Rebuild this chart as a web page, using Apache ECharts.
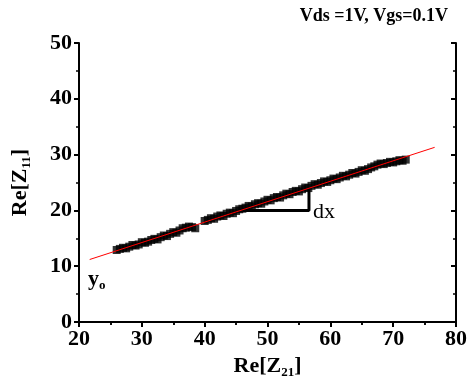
<!DOCTYPE html>
<html><head><meta charset="utf-8">
<script src="https://cdn.jsdelivr.net/npm/echarts@6/dist/echarts.min.js"></script>
<style>html,body{margin:0;padding:0;background:#fff}#c{width:470px;height:387px}</style>
</head><body><div id="c"></div>
<script>
// measured points: left cluster
const xLeft = [26,26.5,27,27.5,28,28.5,29,29.5,30,30.5,31,31.5,32,32.5,33,33.5,34,34.5,35,35.5,36,36.5,37,37.5,38,38.5];
const yLeft = [12.9,13.1,13.3,13.2,13.5,13.8,13.7,13.9,14.3,14.2,14.4,14.7,14.9,14.8,15.2,15.5,15.4,15.8,16.1,16.0,16.4,16.8,16.9,17.1,17.0,16.8];
// right cluster
const xRight = [40,40.5,41,41.5,42,42.5,43,43.5,44,44.5,45,45.5,46,46.5,47,47.5,48,48.5,49,49.5,50,50.5,51,51.5,52,52.5,53,53.5,54,54.5,55,55.5,56,56.5,57,57.5,58,58.5,59,59.5,60,60.5,61,61.5,62,62.5,63,63.5,64,64.5,65,65.5,66,66.5,67,67.5,68,68.5,69,69.5,70,70.5,71,71.5,72];
const yRight = [18.1,18.3,18.6,18.5,18.9,19.1,19.0,19.4,19.6,19.5,19.9,20.2,20.3,20.5,20.8,20.7,21.1,21.3,21.2,21.6,21.9,21.8,22.2,22.4,22.3,22.7,23.0,22.9,23.3,23.5,23.4,23.8,24.1,24.0,24.4,24.7,24.6,24.9,25.2,25.1,25.4,25.7,25.6,25.9,26.2,26.1,26.4,26.7,26.6,26.9,27.2,27.1,27.4,27.7,27.9,28.2,28.4,28.3,28.5,28.7,28.6,28.8,29.0,28.9,29.1];
// linear fit line endpoints
const fitX = [21.7, 76.6];
const fitY = [11.2, 31.3];
// slope triangle
const triX = [45.7, 56.6, 56.6];
const triY = [20, 20, 24.0];
const xTicks = [20,30,40,50,60,70,80];
const yTicks = [0,10,20,30,40,50];

const F = '"Liberation Serif","Times New Roman",serif';
const pts = xLeft.map((x,i)=>[x,yLeft[i]]).concat(xRight.map((x,i)=>[x,yRight[i]]));
const chart = echarts.init(document.getElementById('c'));
const axisCommon = {axisLine:{show:true,lineStyle:{color:'#000',width:2}},splitLine:{show:false}};
chart.setOption({
  animation:false,
  backgroundColor:'#fff',
  grid:{left:79,right:12,top:43,bottom:65},
  xAxis:[
    Object.assign({type:'value',position:'bottom',min:xTicks[0],max:xTicks[xTicks.length-1],interval:10,
      axisTick:{inside:false,length:5,lineStyle:{width:2,color:'#000'}},
      minorTick:{show:true,splitNumber:2,length:3,lineStyle:{width:1.5,color:'#000'}},
      axisLabel:{margin:6,color:'#000',fontFamily:F,fontWeight:'bold',fontSize:22},
      name:'Re[Z{s|21}]',nameLocation:'middle',nameGap:32,
      nameTextStyle:{color:'#000',fontFamily:F,fontWeight:'bold',fontSize:22,
        rich:{s:{fontFamily:F,fontWeight:'bold',fontSize:13,color:'#000',padding:[12,0,0,0]}}}},axisCommon),
    Object.assign({type:'value',position:'top',min:20,max:80,interval:10,
      axisTick:{inside:true,length:5,lineStyle:{width:2,color:'#000'}},
      minorTick:{show:true,splitNumber:2,length:3,lineStyle:{width:1.5,color:'#000'}},
      axisLabel:{show:false}},axisCommon)
  ],
  yAxis:[
    Object.assign({type:'value',position:'left',min:yTicks[0],max:yTicks[yTicks.length-1],interval:10,
      axisTick:{inside:false,length:5,lineStyle:{width:2,color:'#000'}},
      minorTick:{show:true,splitNumber:2,length:3,lineStyle:{width:1.5,color:'#000'}},
      axisLabel:{margin:7,color:'#000',fontFamily:F,fontWeight:'bold',fontSize:22},
      name:'Re[Z{s|11}]',nameLocation:'middle',nameGap:46,
      nameTextStyle:{color:'#000',fontFamily:F,fontWeight:'bold',fontSize:22,
        rich:{s:{fontFamily:F,fontWeight:'bold',fontSize:13,color:'#000',padding:[12,0,0,0]}}}},axisCommon),
    Object.assign({type:'value',position:'right',min:0,max:50,interval:10,
      axisTick:{inside:true,length:5,lineStyle:{width:2,color:'#000'}},
      minorTick:{show:true,splitNumber:2,length:3,lineStyle:{width:1.5,color:'#000'}},
      axisLabel:{show:false}},axisCommon)
  ],
  series:[
    {type:'scatter',data:pts,symbol:'rect',symbolSize:8,itemStyle:{color:'#000'},z:2},
    {type:'line',data:fitX.map((x,i)=>[x,fitY[i]]),symbol:'none',lineStyle:{color:'#ff0000',width:1},z:3},
    {type:'line',data:triX.map((x,i)=>[x,triY[i]]),symbol:'none',lineStyle:{color:'#000',width:3},z:1}
  ],
  graphic:[
    {type:'text',right:22,top:7,style:{text:'Vds =1V, Vgs=0.1V',font:'bold 18px '+F,fill:'#000'}},
    {type:'text',left:313,top:201,style:{text:'dx',font:'22px '+F,fill:'#000'}},
    {type:'text',left:88,top:268,style:{text:'{b|y}{s|o}',font:'bold 22px '+F,fill:'#000',
      rich:{b:{font:'bold 22px '+F,fill:'#000'},s:{font:'bold 13px '+F,fill:'#000',padding:[14,0,0,0]}}}}
  ]
});
</script></body></html>
